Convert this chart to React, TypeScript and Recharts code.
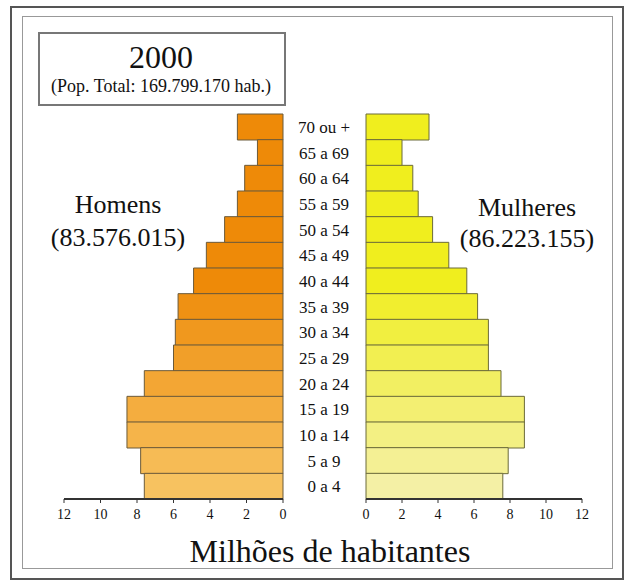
import React from "react";
import { Bar, BarChart, Cell, XAxis, YAxis } from "recharts";

const ages = [
  "70 ou +",
  "65 a 69",
  "60 a 64",
  "55 a 59",
  "50 a 54",
  "45 a 49",
  "40 a 44",
  "35 a 39",
  "30 a 34",
  "25 a 29",
  "20 a 24",
  "15 a 19",
  "10 a 14",
  "5 a 9",
  "0 a 4",
];
// milhões de habitantes
const homens = [2.5, 1.4, 2.1, 2.5, 3.2, 4.2, 4.9, 5.75, 5.9, 6.0, 7.6, 8.55, 8.55, 7.8, 7.6];
const mulheres = [3.5, 2.0, 2.6, 2.9, 3.7, 4.6, 5.6, 6.2, 6.8, 6.8, 7.5, 8.8, 8.8, 7.9, 7.6];
const xTicks = [0, 2, 4, 6, 8, 10, 12];

const rows = ages.map((age, i) => ({ age, homens: homens[i], mulheres: mulheres[i] }));

const serif = "'Liberation Serif', 'DejaVu Serif', serif";
const LABEL_X = 324;

function mix(a: number[], b: number[], t: number) {
  const c = a.map((v, k) => Math.round(v + (b[k] - v) * t));
  return `rgb(${c[0]},${c[1]},${c[2]})`;
}

// top rows saturated, lighter towards the base
const shade = (i: number) => Math.max(0, (i - 6) / 8);
const menColor = (i: number) => mix([238, 138, 8], [247, 194, 96], shade(i));
const womenColor = (i: number) => mix([240, 238, 30], [244, 240, 165], shade(i));

function AgeTick(props: any) {
  const { y, payload } = props;
  return (
    <text
      x={LABEL_X}
      y={y}
      dy={6}
      textAnchor="middle"
      fontSize={17}
      fontFamily={serif}
      fill="#111"
    >
      {payload.value}
    </text>
  );
}

function Label({ x, y, size, children }: { x: number; y: number; size: number; children: React.ReactNode }) {
  return (
    <div
      style={{
        position: "absolute",
        left: x,
        top: y,
        transform: "translate(-50%, -50%)",
        fontFamily: serif,
        fontSize: size,
        lineHeight: 1,
        whiteSpace: "nowrap",
        color: "#111",
      }}
    >
      {children}
    </div>
  );
}

const axisProps = {
  type: "number" as const,
  domain: [0, 12],
  ticks: xTicks,
  interval: 0 as const,
  height: 30,
  tickSize: 4,
  tickMargin: 6,
  axisLine: { stroke: "#333", strokeWidth: 2 },
  tickLine: { stroke: "#333" },
  tick: { fill: "#111", fontSize: 14, fontFamily: serif },
};

export default function App() {
  return (
    <div style={{ position: "absolute", left: 0, top: 0, width: 629, height: 585, background: "#fff" }}>
      <div style={{ position: "absolute", left: 10, top: 6, width: 610, height: 570, border: "2px solid #555" }} />
      <div style={{ position: "absolute", left: 22, top: 16, width: 589, height: 551, border: "1px solid #999" }} />
      <div style={{ position: "absolute", left: 38, top: 32, width: 244, height: 70, border: "2px solid #777" }} />

      <Label x={161} y={57} size={32}>2000</Label>
      <Label x={161} y={86} size={18}>(Pop. Total: 169.799.170 hab.)</Label>
      <Label x={118} y={205} size={26}>Homens</Label>
      <Label x={118} y={238} size={26}>(83.576.015)</Label>
      <Label x={527} y={208} size={26}>Mulheres</Label>
      <Label x={527} y={239} size={26}>(86.223.155)</Label>
      <Label x={330} y={551} size={32}>Milhões de habitantes</Label>

      <div style={{ position: "absolute", left: 0, top: 0 }}>
        <BarChart
          width={366}
          height={585}
          layout="vertical"
          data={rows}
          margin={{ top: 114, right: 0, left: 64, bottom: 56 }}
          barCategoryGap={0}
        >
          <XAxis {...axisProps} reversed />
          <YAxis
            type="category"
            dataKey="age"
            orientation="right"
            width={83}
            axisLine={false}
            tickLine={false}
            tick={<AgeTick />}
          />
          <Bar dataKey="homens" stroke="#6b5a3a" strokeWidth={1} isAnimationActive={false}>
            {rows.map((r, i) => (
              <Cell key={r.age} fill={menColor(i)} />
            ))}
          </Bar>
        </BarChart>
      </div>

      <div style={{ position: "absolute", left: 346, top: 0 }}>
        <BarChart
          width={283}
          height={585}
          layout="vertical"
          data={rows}
          margin={{ top: 114, right: 47, left: 20, bottom: 56 }}
          barCategoryGap={0}
        >
          <XAxis {...axisProps} />
          <YAxis type="category" dataKey="age" hide />
          <Bar dataKey="mulheres" stroke="#6b6a3a" strokeWidth={1} isAnimationActive={false}>
            {rows.map((r, i) => (
              <Cell key={r.age} fill={womenColor(i)} />
            ))}
          </Bar>
        </BarChart>
      </div>
    </div>
  );
}
